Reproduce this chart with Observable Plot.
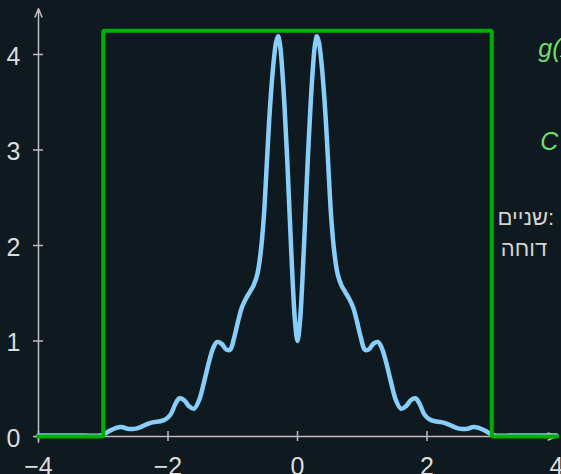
<!DOCTYPE html>
<html><head><meta charset="utf-8">
<script src="https://cdn.jsdelivr.net/npm/d3@7"></script>
<script src="https://cdn.jsdelivr.net/npm/@observablehq/plot@0.6"></script>
<style>
html,body{margin:0;padding:0;background:#0f1a20;overflow:hidden;}
#chart svg{display:block;overflow:hidden;}
</style></head><body><div id="chart"></div>
<script>
// blue curve
const curveX = [-4.0,-3.6,-3.3,-3.05,-3.0,-2.9,-2.8,-2.72,-2.62,-2.52,-2.42,-2.32,-2.22,-2.12,-2.04,-1.96,-1.88,-1.82,-1.75,-1.68,-1.6,-1.52,-1.44,-1.36,-1.3,-1.24,-1.17,-1.1,-1.04,-0.98,-0.92,-0.86,-0.8,-0.74,-0.68,-0.62,-0.57,-0.52,-0.48,-0.44,-0.4,-0.36,-0.33,-0.3,-0.27,-0.24,-0.2,-0.16,-0.12,-0.08,-0.04,0,
  0.04,0.08,0.12,0.16,0.2,0.24,0.27,0.3,0.33,0.36,0.4,0.44,0.48,0.52,0.57,0.62,0.68,0.74,0.8,0.86,0.92,0.98,1.04,1.1,1.17,1.24,1.3,1.36,1.44,1.52,1.6,1.68,1.75,1.82,1.88,1.96,2.04,2.12,2.22,2.32,2.42,2.52,2.62,2.72,2.8,2.9,3.0,3.05,3.3,3.6,4.0];
const curveY = [0.01,0.01,0.01,0.01,0.02,0.06,0.09,0.10,0.08,0.08,0.10,0.13,0.15,0.16,0.18,0.23,0.35,0.40,0.38,0.32,0.29,0.38,0.58,0.80,0.93,0.99,0.97,0.91,0.91,1.03,1.20,1.35,1.44,1.51,1.58,1.70,1.92,2.30,2.78,3.28,3.68,3.98,4.13,4.19,4.10,3.88,3.45,2.92,2.30,1.70,1.22,1.00,
  1.22,1.70,2.30,2.92,3.45,3.88,4.10,4.19,4.13,3.98,3.68,3.28,2.78,2.30,1.92,1.70,1.58,1.51,1.44,1.35,1.20,1.03,0.91,0.91,0.97,0.99,0.93,0.80,0.58,0.38,0.29,0.32,0.38,0.40,0.35,0.23,0.18,0.16,0.15,0.13,0.10,0.08,0.08,0.10,0.09,0.06,0.02,0.01,0.01,0.01,0.01];
// green rectangle function
const boxX = [-4,-3,-3,3,3,4];
const boxY = [0,0,4.25,4.25,0,0];
// ticks
const xTicks = [-4,-2,0,2,4];
const xTickMarks = [-4,-2,0,2];
const xTickLabels = ["−4","−2","0","2","4"];
const yTicks = [0,1,2,3,4];
const yTickLabels = ["0","1","2","3","4"];
// side texts (clipped by the picture edge)
const noteText = ["g(x)","C","שניים:","דוחה"];
const noteX = [3.72,3.75,3.09,3.14];
const noteY = [3.97,2.995,2.21,1.885];
const noteColor = ["#6fdc6f","#6fdc6f","#d4d4d4","#d4d4d4"];

const curve = curveX.map((x,i)=>({x, y: curveY[i]}));
const box = boxX.map((x,i)=>({x, y: boxY[i]}));
const notes = noteText.map((t,i)=>({t, x: noteX[i], y: noteY[i], c: noteColor[i], italic: i<2}));
const axes = [{x1:-4.05,y1:0,x2:4.0,y2:0},{x1:-4,y1:-0.06,x2:-4,y2:4.48}];
const axisColor = "#bdbdbd";

const chart = Plot.plot({
  width: 561, height: 474,
  marginLeft: 38, marginRight: 5, marginBottom: 38, marginTop: 54,
  style: {background: "#0f1a20", fontFamily: "Liberation Sans, Arial, sans-serif"},
  x: {domain: [-4,4], range: [38,556], axis: null},
  y: {domain: [0,4], range: [436,54], axis: null},
  marks: [
    Plot.ruleX(xTickMarks, {x: d=>d, y1: 0, y2: 0, insetTop: -5, insetBottom: -5, stroke: axisColor, strokeWidth: 1.5}),
    Plot.ruleY(yTicks, {y: d=>d, x1: -4, x2: -4, insetLeft: -5, insetRight: -5, stroke: axisColor, strokeWidth: 1.5}),
    Plot.arrow(axes, {x1:"x1", y1:"y1", x2:"x2", y2:"y2", stroke: axisColor, strokeWidth: 1.5, headLength: 9, headAngle: 45}),
    Plot.text(xTicks, {x: d=>d, y: 0, text: (d,i)=>xTickLabels[i], dy: 30, fontSize: 25, fill: "#dcdcdc"}),
    Plot.text(yTicks, {x: -4, y: d=>d, text: (d,i)=>yTickLabels[i], dx: -25, dy: 2, fontSize: 25, fill: "#dcdcdc"}),
    Plot.line(curve, {x:"x", y:"y", stroke: "#87cefa", strokeWidth: 4.5, curve: "catmull-rom"}),
    Plot.line(box, {x:"x", y:"y", stroke: "#00b000", strokeWidth: 4, strokeLinejoin: "miter", strokeLinecap: "square"}),
    Plot.text(notes.filter(d=>d.italic), {x:"x", y:"y", text:"t", fill: d=>d.c, fontSize: 25, fontStyle: "italic", textAnchor: "start", lineAnchor: "bottom"}),
    Plot.text(notes.filter(d=>!d.italic), {x:"x", y:"y", text:"t", fill: d=>d.c, fontSize: 22, textAnchor: "start", lineAnchor: "bottom"})
  ]
});
document.getElementById("chart").appendChild(chart);
</script></body></html>
